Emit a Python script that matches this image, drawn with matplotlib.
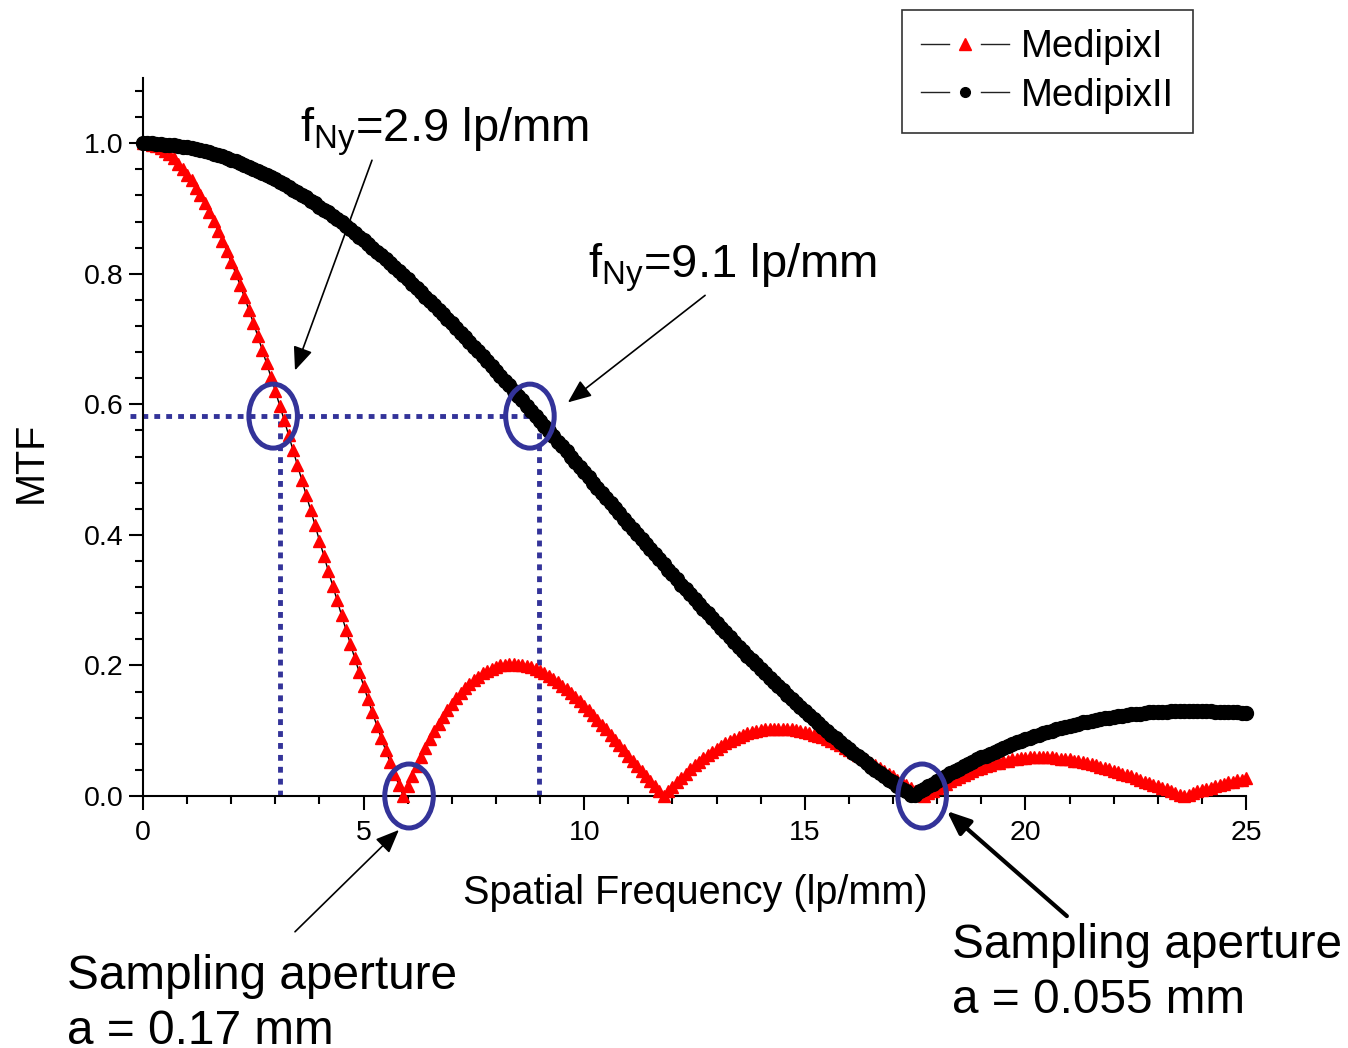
import matplotlib
import numpy as np

matplotlib.use("Agg")
import matplotlib.pyplot as plt  # noqa: E402
from matplotlib.legend_handler import HandlerBase  # noqa: E402
from matplotlib.lines import Line2D  # noqa: E402
from matplotlib.patches import Ellipse  # noqa: E402
from matplotlib.ticker import MultipleLocator  # noqa: E402

plt.rcParams["font.family"] = ["Liberation Sans", "DejaVu Sans"]

# spatial frequency grid (lp/mm), one point every 0.1
freq = np.round(np.arange(0, 25.05, 0.1), 1)

# MedipixI (a = 0.17 mm)
mtf_medipix1 = [
    1.000, 1.000, 0.998, 0.996, 0.992, 0.988, 0.983, 0.977, 0.969, 0.961,
    0.952, 0.943, 0.932, 0.920, 0.908, 0.895, 0.881, 0.866, 0.851, 0.835,
    0.818, 0.801, 0.783, 0.764, 0.745, 0.725, 0.705, 0.684, 0.663, 0.642,
    0.620, 0.598, 0.576, 0.553, 0.530, 0.507, 0.484, 0.461, 0.438, 0.415,
    0.391, 0.368, 0.345, 0.322, 0.300, 0.277, 0.255, 0.233, 0.211, 0.190,
    0.169, 0.148, 0.128, 0.108, 0.089, 0.070, 0.052, 0.034, 0.017, 0.000,
    0.016, 0.031, 0.046, 0.060, 0.074, 0.087, 0.099, 0.111, 0.121, 0.131,
    0.141, 0.150, 0.158, 0.165, 0.172, 0.178, 0.183,
    0.188, 0.192, 0.195, 0.198, 0.200, 0.201, 0.202, 0.202, 0.201, 0.200,
    0.199, 0.197, 0.194, 0.191, 0.188, 0.184, 0.179, 0.174, 0.169, 0.164,
    0.158, 0.152, 0.145, 0.138, 0.132, 0.124, 0.117, 0.109, 0.102, 0.094,
    0.086, 0.078, 0.070, 0.062, 0.054, 0.046, 0.038, 0.030, 0.023, 0.015,
    0.007, 0.000, 0.007, 0.014, 0.021, 0.028, 0.034, 0.041, 0.047, 0.052,
    0.058, 0.063, 0.068, 0.072, 0.077, 0.081, 0.084, 0.087, 0.091, 0.093,
    0.096, 0.098, 0.099, 0.101, 0.102, 0.103, 0.103, 0.103, 0.103, 0.103,
    0.102, 0.101, 0.100, 0.098, 0.096, 0.094, 0.092, 0.090, 0.087, 0.084,
    0.081, 0.078, 0.074, 0.071, 0.067, 0.063, 0.059, 0.055, 0.051, 0.047,
    0.043, 0.038, 0.034, 0.030, 0.025, 0.021, 0.017, 0.013, 0.008, 0.004,
    0.000, 0.004, 0.008, 0.012, 0.016, 0.019, 0.023, 0.026, 0.029, 0.032,
    0.035, 0.038, 0.041, 0.043, 0.046, 0.048, 0.050, 0.051, 0.053, 0.054,
    0.056, 0.057, 0.058, 0.058, 0.059, 0.059, 0.059, 0.059, 0.059, 0.059,
    0.058, 0.057, 0.057, 0.056, 0.054, 0.053, 0.052, 0.050, 0.049, 0.047,
    0.045, 0.043, 0.041, 0.039, 0.037, 0.034, 0.032, 0.030, 0.027, 0.025,
    0.022, 0.020, 0.017, 0.015, 0.012, 0.010, 0.007, 0.005, 0.002, 0.000,
    0.002, 0.005, 0.007, 0.009, 0.011, 0.013, 0.015, 0.017, 0.019, 0.021,
    0.022, 0.024, 0.025, 0.027,
]

# MedipixII (a = 0.055 mm)
mtf_medipix2 = [
    1.000, 1.000, 1.000, 0.999, 0.999, 0.998, 0.998, 0.997, 0.996, 0.995, 0.994, 0.993, 0.991, 0.990,
    0.988, 0.986, 0.984, 0.982, 0.980, 0.978, 0.975, 0.973, 0.970, 0.967,
    0.964, 0.961, 0.958, 0.955, 0.952, 0.948, 0.945, 0.941, 0.937, 0.933,
    0.929, 0.925, 0.921, 0.917, 0.912, 0.908, 0.903, 0.898, 0.894, 0.889,
    0.884, 0.879, 0.873, 0.868, 0.863, 0.857, 0.852, 0.846, 0.840, 0.834,
    0.829, 0.823, 0.817, 0.810, 0.804, 0.798, 0.792, 0.785, 0.779, 0.772,
    0.765, 0.759, 0.752, 0.745, 0.738, 0.731, 0.724, 0.717, 0.710, 0.703,
    0.696, 0.688, 0.681, 0.674, 0.666, 0.659, 0.651, 0.644, 0.636, 0.629,
    0.621, 0.613, 0.606, 0.598, 0.590, 0.582, 0.575, 0.567, 0.559, 0.551,
    0.543, 0.536, 0.528, 0.520, 0.512, 0.504, 0.496, 0.488, 0.480, 0.472,
    0.464, 0.457, 0.449, 0.441, 0.433, 0.425, 0.417, 0.409, 0.401, 0.394,
    0.386, 0.378, 0.370, 0.363, 0.355, 0.347, 0.340, 0.332, 0.324, 0.317,
    0.309, 0.302, 0.294, 0.287, 0.280, 0.272, 0.265, 0.258, 0.251, 0.244,
    0.236, 0.229, 0.222, 0.215, 0.209, 0.202, 0.195, 0.188, 0.181, 0.175,
    0.168, 0.162, 0.155, 0.149, 0.143, 0.136, 0.130, 0.124, 0.118, 0.112,
    0.106, 0.100, 0.094, 0.089, 0.083, 0.077, 0.072, 0.066, 0.061, 0.056,
    0.050, 0.045, 0.040, 0.035, 0.030, 0.025, 0.021, 0.016, 0.011, 0.007,
    0.002,
    0.002, 0.007, 0.011, 0.015, 0.019, 0.023, 0.027, 0.031, 0.035, 0.038,
    0.042, 0.046, 0.049, 0.052, 0.056, 0.059, 0.062, 0.065, 0.068, 0.071,
    0.074, 0.077, 0.079, 0.082, 0.085, 0.087, 0.089, 0.092, 0.094, 0.096,
    0.098, 0.100, 0.102, 0.104, 0.106, 0.108, 0.109, 0.111, 0.113, 0.114,
    0.115, 0.117, 0.118, 0.119, 0.120, 0.121, 0.122, 0.123, 0.124, 0.125,
    0.126, 0.126, 0.127, 0.128, 0.128, 0.129, 0.129, 0.129, 0.130, 0.130,
    0.130, 0.130, 0.130, 0.130, 0.130, 0.130, 0.130, 0.130, 0.129, 0.129,
    0.129, 0.128, 0.128, 0.128, 0.127, 0.127,
]
assert len(mtf_medipix1) == len(freq)
assert len(mtf_medipix2) == len(freq)

series_labels = ["MedipixI", "MedipixII"]
x_ticks = [0, 5, 10, 15, 20, 25]
y_ticks = [0.0, 0.2, 0.4, 0.6, 0.8, 1.0]

# Nyquist marks: MTF level and the two frequencies where the dotted guides drop
nyquist_mtf = 0.582
nyquist_freqs = [3.1, 8.98]

W, H = 1348, 1048
BLUE = "#333399"


class GapHandler(HandlerBase):
    # short line, marker, short line, like the Origin legend
    def create_artists(self, legend, orig_handle, xdescent, ydescent, width, height,
                       fontsize, trans):
        y = height / 2 - ydescent
        x0 = -xdescent
        seg = width * 0.32
        left = Line2D([x0, x0 + seg], [y, y], color="#222222", lw=1)
        right = Line2D([x0 + width - seg, x0 + width], [y, y], color="#222222", lw=1)
        mark = Line2D([x0 + width / 2], [y], ls="none", marker=orig_handle.get_marker(),
                      ms=orig_handle.get_markersize(), color=orig_handle.get_color())
        for a in (left, right, mark):
            a.set_transform(trans)
        return [left, right, mark]


fig = plt.figure(figsize=(W / 100, H / 100), dpi=100)
ax = fig.add_axes([143 / W, 1 - 796 / H, (1246 - 143) / W, (796 - 78) / H])

ax.plot(freq, mtf_medipix1, color="black", lw=1, marker="^", ms=8.5, mfc="red", mec="red",
        clip_on=False, zorder=3)
ax.plot(freq, mtf_medipix2, color="black", lw=1, marker="o", ms=10, mfc="black", mec="black",
        clip_on=False, zorder=4)

ax.set_xlim(0, 25)
ax.set_ylim(0, 1.1)
ax.set_xticks(x_ticks)
ax.set_yticks(y_ticks)
ax.set_yticklabels([f"{v:.1f}" for v in y_ticks])
ax.xaxis.set_minor_locator(MultipleLocator(1))
ax.yaxis.set_minor_locator(MultipleLocator(0.04))
for s in ["top", "right"]:
    ax.spines[s].set_visible(False)
for s in ["left", "bottom"]:
    ax.spines[s].set_linewidth(1.5)
ax.tick_params(which="major", length=10, width=1.5, labelsize=20.5)
ax.tick_params(axis="x", which="major", pad=7)
ax.tick_params(axis="y", which="major", pad=4)
ax.tick_params(which="minor", length=5.5, width=1.5)

fig.text(695 / W, 1 - 893 / H, "Spatial Frequency (lp/mm)", ha="center", va="center", fontsize=28.5)
fig.text(31 / W, 1 - 462 / H, "MTF", ha="center", va="center", rotation=90, fontsize=28.5)

# dotted guides at the Nyquist frequencies
dots = dict(color=BLUE, lw=3.5, dashes=(1.2, 1.25), clip_on=False, zorder=2)
ax.plot([-0.3, nyquist_freqs[1]], [nyquist_mtf, nyquist_mtf], **dots)
for fx in nyquist_freqs:
    ax.plot([fx, fx], [0, nyquist_mtf], **dots)

# circles round the Nyquist points and the first zeros
for cx, cy in [(2.95, nyquist_mtf), (8.77, nyquist_mtf), (6.03, 0.0), (17.66, 0.0)]:
    ax.add_patch(Ellipse((cx, cy), 1.1, 0.098, fc="none", ec=BLUE, lw=3.6,
                         clip_on=False, zorder=5))

head = "-|>,head_length=0.6,head_width=0.25"
thin = dict(arrowstyle=head, lw=1.2, color="black", mutation_scale=24, shrinkA=0, shrinkB=0)
thick = dict(arrowstyle=head, lw=3, color="black", mutation_scale=24, shrinkA=0, shrinkB=0)
ax.annotate("", xy=(3.445, 0.652), xytext=(5.19, 0.974), arrowprops=thin, annotation_clip=False)
ax.annotate("", xy=(9.63, 0.603), xytext=(12.74, 0.767), arrowprops=thin, annotation_clip=False)
ax.annotate("", xy=(5.8, -0.052), xytext=(3.445, -0.208), arrowprops=thin, annotation_clip=False)
ax.annotate("", xy=(18.22, -0.023), xytext=(20.94, -0.184), arrowprops=thick, annotation_clip=False)

fig.text(300 / W, 1 - 142 / H, r"f$_{\mathregular{Ny}}$=2.9 lp/mm", fontsize=34, va="baseline")
fig.text(588 / W, 1 - 278 / H, r"f$_{\mathregular{Ny}}$=9.1 lp/mm", fontsize=34, va="baseline")
fig.text(67 / W, 1 - 989 / H, "Sampling aperture", fontsize=34.4, va="baseline")
fig.text(67 / W, 1 - 1044 / H, "a = 0.17 mm", fontsize=34.4, va="baseline")
fig.text(952 / W, 1 - 958 / H, "Sampling aperture", fontsize=34.4, va="baseline")
fig.text(952 / W, 1 - 1013 / H, "a = 0.055 mm", fontsize=34.4, va="baseline")

h1 = Line2D([], [], ls="none", marker="^", ms=9, color="red")
h2 = Line2D([], [], ls="none", marker="o", ms=7, color="black")
leg = fig.legend([h1, h2], series_labels, loc="upper left",
                 bbox_to_anchor=(902 / W, 1 - 10 / H), fontsize=27.5, frameon=True,
                 fancybox=False, edgecolor="black", handlelength=2.3, handletextpad=0.31,
                 borderaxespad=0, borderpad=0.5, labelspacing=0.33,
                 handler_map={Line2D: GapHandler()})
leg.get_frame().set_linewidth(1.2)

fig.savefig("out.png", dpi=100)
plt.close(fig)
